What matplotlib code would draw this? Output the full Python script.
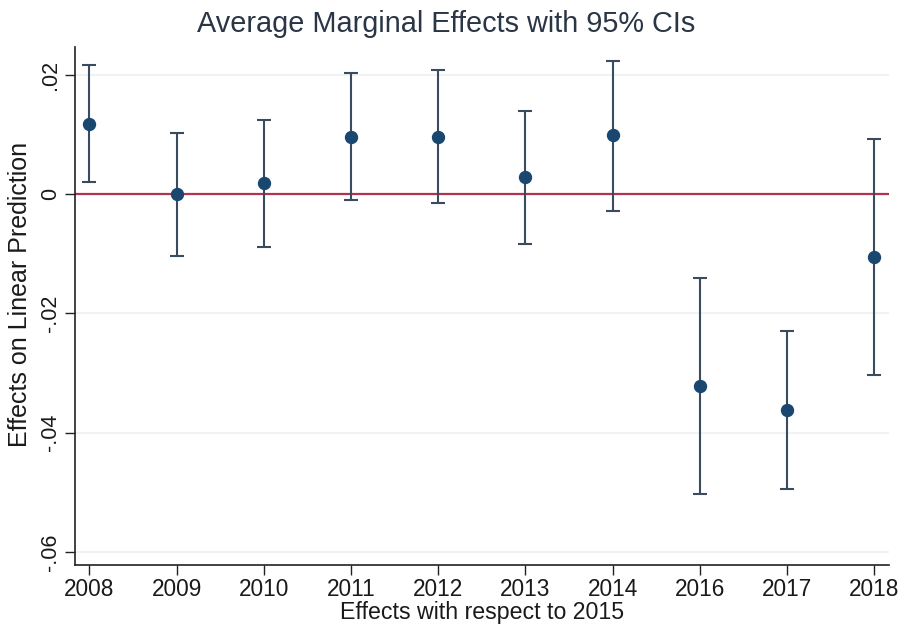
import matplotlib
matplotlib.use("Agg")
import matplotlib.pyplot as plt
import numpy as np

years = ["2008", "2009", "2010", "2011", "2012", "2013", "2014", "2016", "2017", "2018"]
effects = [0.0118, 0.0000, 0.0019, 0.0096, 0.0096, 0.0029, 0.0099, -0.0322, -0.0362, -0.0106]
ci_low = [0.0020, -0.0104, -0.0089, -0.0010, -0.0015, -0.0084, -0.0028, -0.0503, -0.0494, -0.0304]
ci_high = [0.0217, 0.0102, 0.0125, 0.0204, 0.0208, 0.0140, 0.0223, -0.0140, -0.0230, 0.0093]
ytick_vals = [0.02, 0.0, -0.02, -0.04, -0.06]
ytick_labels = [".02", "0", "-.02", "-.04", "-.06"]

plt.rcParams['font.family'] = ['Liberation Sans', 'DejaVu Sans']

fig = plt.figure(figsize=(8.98, 6.26), dpi=100)
ax = fig.add_axes([75/898, 1 - 565/626, (889 - 75)/898, (565 - 47)/626])

x = np.arange(len(years))
eff = np.array(effects)
lo = np.array(ci_low)
hi = np.array(ci_high)

for yv in ytick_vals:
    ax.axhline(yv, color='#eef1f2', lw=1.2, zorder=0)
ax.axhline(0, color='#b0344f', lw=1.6, zorder=1)

ax.errorbar(x, eff, yerr=[eff - lo, hi - eff], fmt='none', ecolor='#3a4b5e',
            elinewidth=1.5, capsize=5, capthick=1.5, zorder=2)
ax.plot(x, eff, 'o', color='#1a476f', markersize=8.6, zorder=3)

ax.set_xlim(-0.165, 9.17)
ax.set_ylim(-0.0622, 0.0247)
ax.set_xticks(x)
ax.set_xticklabels(years, fontsize=16.3)
ax.set_yticks(ytick_vals)
ax.set_yticklabels(ytick_labels, fontsize=15.5, rotation=90, va='center')

for s in ['top', 'right']:
    ax.spines[s].set_visible(False)
for s in ['left', 'bottom']:
    ax.spines[s].set_color('#222222')
    ax.spines[s].set_linewidth(1.2)
ax.tick_params(axis='both', length=7, width=1.0, color='#222222', labelcolor='#1a1a1a')
ax.tick_params(axis='x', pad=2)
ax.tick_params(axis='y', pad=3)

ax.set_xlabel("Effects with respect to 2015", fontsize=16.7, color='#1a1a1a', labelpad=0)
ax.set_ylabel("Effects on Linear Prediction", fontsize=18, color='#1a1a1a')
ax.yaxis.set_label_coords(-0.053, 0.523)
fig.text(446/898, 1 - 24/626, "Average Marginal Effects with 95% CIs", fontsize=20.8,
         color='#2a3545', ha='center', va='center')

fig.savefig("out.png", dpi=100)
